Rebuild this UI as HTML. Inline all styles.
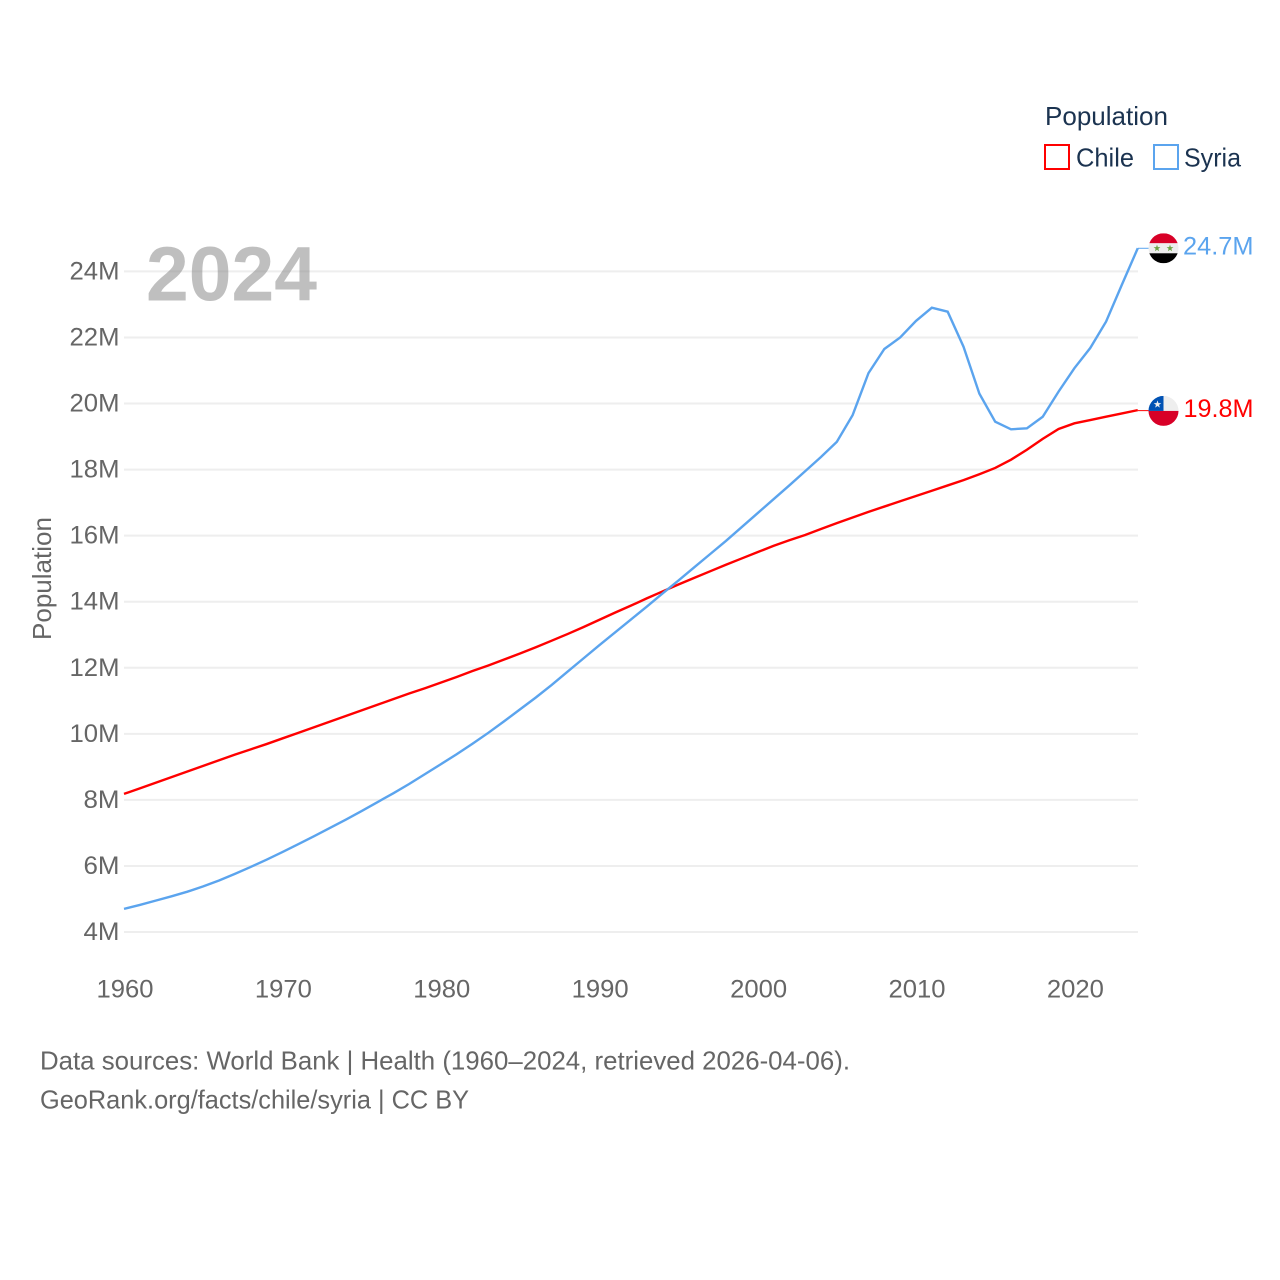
<!DOCTYPE html>
<html lang="en">
<head>
<meta charset="utf-8">
<title>Population: Chile and Syria</title>
<style>
html,body{margin:0;padding:0;background:#fff;}
svg{display:block;}
text{font-family:"Liberation Sans",sans-serif;}
</style>
</head>
<body>
<svg id="chart" xmlns="http://www.w3.org/2000/svg" width="1280" height="1280" viewBox="0 0 1280 1280">
  <rect width="1280" height="1280" fill="#ffffff"/>
  <g id="grid"></g>
  <g id="yticks"></g>
  <g id="xticks"></g>
  <text x="146" y="300.5" font-size="77" font-weight="700" fill="#808080" fill-opacity="0.5" textLength="171" lengthAdjust="spacingAndGlyphs">2024</text>
  <text transform="translate(51,578.5) rotate(-90)" text-anchor="middle" font-size="26" fill="#666666" textLength="123" lengthAdjust="spacingAndGlyphs">Population</text>
  <g id="series"></g>

  <g id="flag-syria">
    <clipPath id="clip-syria"><circle cx="0" cy="0" r="15"/></clipPath>
    <g clip-path="url(#clip-syria)">
      <rect x="-15" y="-15" width="30" height="10" fill="#d80027"/>
      <rect x="-15" y="-5" width="30" height="10" fill="#eeeeee"/>
      <rect x="-15" y="5" width="30" height="10" fill="#000000"/>
    </g>
    <polygon transform="translate(-6.5,0) scale(3.6)" points="0,-1 .24,-.31 .95,-.31 .38,.12 .59,.81 0,.4 -.59,.81 -.38,.12 -.95,-.31 -.24,-.31" fill="#6da544"/>
    <polygon transform="translate(6.5,0) scale(3.6)" points="0,-1 .24,-.31 .95,-.31 .38,.12 .59,.81 0,.4 -.59,.81 -.38,.12 -.95,-.31 -.24,-.31" fill="#6da544"/>
  </g>

  <g id="flag-chile">
    <clipPath id="clip-chile"><circle cx="0" cy="0" r="15"/></clipPath>
    <g clip-path="url(#clip-chile)">
      <rect x="-15" y="-15" width="30" height="15" fill="#eeeeee"/>
      <rect x="-15" y="0" width="30" height="15" fill="#d80027"/>
      <rect x="-15" y="-15" width="15" height="15" fill="#0052b4"/>
    </g>
    <polygon transform="translate(-6,-6.5) scale(4)" points="0,-1 .24,-.31 .95,-.31 .38,.12 .59,.81 0,.4 -.59,.81 -.38,.12 -.95,-.31 -.24,-.31" fill="#eeeeee"/>
  </g>

  <g id="value-labels"></g>

  <g>
    <text x="1045" y="125" font-size="26" fill="#1b3350" textLength="123" lengthAdjust="spacingAndGlyphs">Population</text>
    <rect x="1045" y="145" width="24" height="24" fill="none" stroke="#ff0000" stroke-width="2"/>
    <text x="1076" y="166.5" font-size="26" fill="#1b3350" textLength="58" lengthAdjust="spacingAndGlyphs">Chile</text>
    <rect x="1154" y="145" width="24" height="24" fill="none" stroke="#5ba4ee" stroke-width="2"/>
    <text x="1184" y="166.5" font-size="26" fill="#1b3350" textLength="57" lengthAdjust="spacingAndGlyphs">Syria</text>
  </g>

  <text x="40" y="1069.5" font-size="26" fill="#666666" textLength="810" lengthAdjust="spacingAndGlyphs">Data sources: World Bank | Health (1960–2024, retrieved 2026-04-06).</text>
  <text x="40" y="1108.5" font-size="26" fill="#666666" textLength="429" lengthAdjust="spacingAndGlyphs">GeoRank.org/facts/chile/syria | CC BY</text>
</svg>

<script>
const firstYear = 1960;
const yTickValues = [4, 6, 8, 10, 12, 14, 16, 18, 20, 22, 24];
const xTickYears = [1960, 1970, 1980, 1990, 2000, 2010, 2020];
const chileValues = [
  8.18, 8.35, 8.52, 8.69, 8.86, 9.03, 9.2, 9.37, 9.53, 9.69,
  9.86, 10.03, 10.2, 10.37, 10.54, 10.71, 10.88, 11.05, 11.22, 11.38,
  11.55, 11.72, 11.9, 12.07, 12.25, 12.43, 12.62, 12.82, 13.02, 13.23,
  13.45, 13.67, 13.88, 14.1, 14.31, 14.52, 14.72, 14.92, 15.12, 15.31,
  15.5, 15.69, 15.86, 16.02, 16.2, 16.38, 16.55, 16.72, 16.88, 17.04,
  17.2, 17.36, 17.52, 17.68, 17.86, 18.05, 18.3, 18.6, 18.93, 19.23,
  19.4, 19.5, 19.6, 19.7, 19.8
];
const syriaValues = [
  4.7, 4.82, 4.95, 5.08, 5.22, 5.38, 5.56, 5.76, 5.97, 6.19,
  6.42, 6.66, 6.9, 7.15, 7.4, 7.66, 7.93, 8.2, 8.48, 8.78,
  9.08, 9.38, 9.7, 10.03, 10.38, 10.74, 11.1, 11.48, 11.88, 12.28,
  12.68, 13.07, 13.46, 13.85, 14.25, 14.64, 15.04, 15.44, 15.84, 16.26,
  16.68, 17.1, 17.52, 17.95, 18.38, 18.84, 19.65, 20.92, 21.65, 22.0,
  22.5, 22.9, 22.78, 21.72, 20.3, 19.45, 19.22, 19.25, 19.6, 20.36,
  21.07, 21.68, 22.48, 23.6, 24.7
];
const chileColor = '#ff0000';
const syriaColor = '#5ba4ee';

const NS = 'http://www.w3.org/2000/svg';
function xScale(year) { return 124 + (year - 1960) * 15.84; }
function yScale(v) { return 932 - (v - 4) * 33.03; }
function linePath(values) {
  return values.map(function (v, i) {
    return (i ? 'L' : 'M') + xScale(firstYear + i).toFixed(2) + ' ' + yScale(v).toFixed(2);
  }).join(' ');
}

const gridGroup = document.getElementById('grid');
const yTickGroup = document.getElementById('yticks');
const xTickGroup = document.getElementById('xticks');
const seriesGroup = document.getElementById('series');
const labelGroup = document.getElementById('value-labels');

yTickValues.forEach(function (v) {
  const ln = document.createElementNS(NS, 'line');
  
  
  ln.setAttribute('x1', 124);
  ln.setAttribute('x2', 1138);
  ln.setAttribute('y1', yScale(v));
  ln.setAttribute('y2', yScale(v));
  ln.setAttribute('stroke', '#eeeeee');
  ln.setAttribute('stroke-width', 2);
  gridGroup.appendChild(ln);

  const t = document.createElementNS(NS, 'text');
  
  
  const s = v + 'M';
  const w = s.length === 3 ? 50 : 36;
  t.setAttribute('x', 119.5 - w);
  t.setAttribute('y', yScale(v) + 8);
  t.setAttribute('font-size', 25);
  t.setAttribute('fill', '#666666');
  t.setAttribute('textLength', w);
  t.setAttribute('lengthAdjust', 'spacingAndGlyphs');
  t.textContent = s;
  yTickGroup.appendChild(t);
});

xTickYears.forEach(function (yr) {
  const t = document.createElementNS(NS, 'text');
  
  
  t.setAttribute('x', xScale(yr) - 27.5);
  t.setAttribute('y', 997.5);
  t.setAttribute('font-size', 25);
  t.setAttribute('fill', '#666666');
  t.setAttribute('textLength', 57);
  t.setAttribute('lengthAdjust', 'spacingAndGlyphs');
  t.textContent = yr;
  xTickGroup.appendChild(t);
});

const chileLine = document.createElementNS(NS, 'path');


chileLine.setAttribute('d', linePath(chileValues));
chileLine.setAttribute('fill', 'none');
chileLine.setAttribute('stroke', chileColor);
chileLine.setAttribute('stroke-width', 2.4);
seriesGroup.appendChild(chileLine);

const syriaLine = document.createElementNS(NS, 'path');


syriaLine.setAttribute('d', linePath(syriaValues));
syriaLine.setAttribute('fill', 'none');
syriaLine.setAttribute('stroke', syriaColor);
syriaLine.setAttribute('stroke-width', 2.4);
seriesGroup.appendChild(syriaLine);

const chileLast = chileValues[chileValues.length - 1];
const syriaLast = syriaValues[syriaValues.length - 1];
const lastX = xScale(firstYear + chileValues.length - 1);

const chileConn = document.createElementNS(NS, 'line');


chileConn.setAttribute('x1', lastX);
chileConn.setAttribute('x2', 1150);
chileConn.setAttribute('y1', yScale(chileLast) + 0.5);
chileConn.setAttribute('y2', yScale(chileLast) + 0.5);
chileConn.setAttribute('stroke', chileColor);
chileConn.setAttribute('stroke-width', 1);
seriesGroup.appendChild(chileConn);

const syriaConn = document.createElementNS(NS, 'line');


syriaConn.setAttribute('x1', lastX);
syriaConn.setAttribute('x2', 1150);
syriaConn.setAttribute('y1', yScale(syriaLast));
syriaConn.setAttribute('y2', yScale(syriaLast));
syriaConn.setAttribute('stroke', syriaColor);
syriaConn.setAttribute('stroke-width', 1);
seriesGroup.appendChild(syriaConn);

document.getElementById('flag-chile').setAttribute('transform', 'translate(1163.5,' + (yScale(chileLast) + 0.8) + ')');
document.getElementById('flag-syria').setAttribute('transform', 'translate(1163.5,' + yScale(syriaLast) + ')');

const chileLabel = document.createElementNS(NS, 'text');


chileLabel.setAttribute('x', 1183.5);
chileLabel.setAttribute('y', yScale(chileLast) + 7);
chileLabel.setAttribute('font-size', 25);
chileLabel.setAttribute('fill', chileColor);
chileLabel.setAttribute('textLength', 70);
chileLabel.setAttribute('lengthAdjust', 'spacingAndGlyphs');
chileLabel.textContent = chileLast.toFixed(1) + 'M';
labelGroup.appendChild(chileLabel);

const syriaLabel = document.createElementNS(NS, 'text');


syriaLabel.setAttribute('x', 1183);
syriaLabel.setAttribute('y', yScale(syriaLast) + 6);
syriaLabel.setAttribute('font-size', 25);
syriaLabel.setAttribute('fill', syriaColor);
syriaLabel.setAttribute('textLength', 70.5);
syriaLabel.setAttribute('lengthAdjust', 'spacingAndGlyphs');
syriaLabel.textContent = syriaLast.toFixed(1) + 'M';
labelGroup.appendChild(syriaLabel);
</script>
</body>
</html>
